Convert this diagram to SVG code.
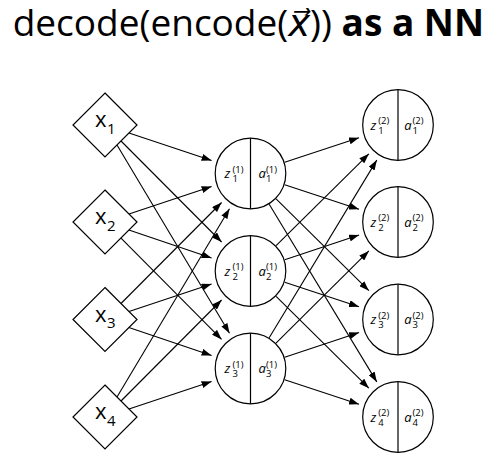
<svg xmlns="http://www.w3.org/2000/svg" width="501" height="469" viewBox="0 0 501 469">
<style>
.t{font-family:"Open Sans","DejaVu Sans",sans-serif;fill:#000}
.nd{fill:#fff;stroke:#000;stroke-width:1.2}
.dv{stroke:#000;stroke-width:1.2}
.e{stroke:#000;stroke-width:1.1;fill:none;marker-end:url(#ah)}
.xl{font-size:22px}
.xs{font-size:15px}
.m{font-size:13px;font-style:italic}
.s{font-size:9.5px}
</style>
<defs>
<marker id="ah" viewBox="0 0 10 7" refX="10" refY="3.5" markerWidth="10" markerHeight="7" orient="auto" markerUnits="userSpaceOnUse"><path d="M0,0 L10,3.5 L0,7 z" fill="#000"/></marker>
</defs>
<rect width="501" height="469" fill="#fff"/>
<text id="title" class="t" x="12.7" y="36" font-size="37">decode(encode(<tspan font-style="italic">x⃗</tspan>)) <tspan font-weight="bold">as a NN</tspan></text>
<g id="edges">
<line class="e" x1="129.0" y1="133.0" x2="211.6" y2="160.5"/>
<line class="e" x1="121.0" y1="141.0" x2="221.6" y2="242.0"/>
<line class="e" x1="117.0" y1="145.0" x2="229.5" y2="333.3"/>
<line class="e" x1="129.0" y1="214.0" x2="211.6" y2="186.5"/>
<line class="e" x1="128.9" y1="230.1" x2="211.6" y2="257.9"/>
<line class="e" x1="121.0" y1="238.1" x2="221.6" y2="339.4"/>
<line class="e" x1="121.0" y1="303.5" x2="221.6" y2="202.5"/>
<line class="e" x1="129.0" y1="311.5" x2="211.6" y2="284.0"/>
<line class="e" x1="128.9" y1="327.6" x2="211.6" y2="355.4"/>
<line class="e" x1="117.0" y1="397.0" x2="229.5" y2="208.7"/>
<line class="e" x1="121.0" y1="401.0" x2="221.6" y2="300.0"/>
<line class="e" x1="129.0" y1="409.0" x2="211.6" y2="381.5"/>
<line class="e" x1="284.7" y1="162.3" x2="359.0" y2="137.8"/>
<line class="e" x1="284.7" y1="184.7" x2="359.0" y2="209.2"/>
<line class="e" x1="276.1" y1="198.8" x2="368.9" y2="290.7"/>
<line class="e" x1="269.2" y1="204.3" x2="376.8" y2="381.9"/>
<line class="e" x1="276.1" y1="245.7" x2="368.9" y2="153.8"/>
<line class="e" x1="284.7" y1="259.7" x2="359.1" y2="234.9"/>
<line class="e" x1="284.7" y1="282.2" x2="359.0" y2="306.7"/>
<line class="e" x1="276.1" y1="296.3" x2="368.9" y2="388.2"/>
<line class="e" x1="269.2" y1="337.7" x2="376.8" y2="160.1"/>
<line class="e" x1="276.0" y1="343.1" x2="368.9" y2="250.9"/>
<line class="e" x1="284.7" y1="357.2" x2="359.1" y2="332.4"/>
<line class="e" x1="284.7" y1="379.8" x2="359.0" y2="404.2"/>
</g>
<g id="x1"><path class="nd" d="M105,93 L137,125 L105,157 L73,125 Z"/><text class="t xl" x="95" y="127">x</text><text class="t xs" x="107" y="133.7">1</text></g>
<g id="x2"><path class="nd" d="M105,190 L137,222 L105,254 L73,222 Z"/><text class="t xl" x="95" y="224">x</text><text class="t xs" x="107" y="230.7">2</text></g>
<g id="x3"><path class="nd" d="M105,287.5 L137,319.5 L105,351.5 L73,319.5 Z"/><text class="t xl" x="95" y="321.5">x</text><text class="t xs" x="107" y="328.2">3</text></g>
<g id="x4"><path class="nd" d="M105,385 L137,417 L105,449 L73,417 Z"/><text class="t xl" x="95" y="419">x</text><text class="t xs" x="107" y="425.7">4</text></g>
<g id="h1"><circle class="nd" cx="250.5" cy="173.5" r="35.3"/><line class="dv" x1="250.5" y1="138.2" x2="250.5" y2="208.8"/><text class="t m" x="224.6" y="178.3">z</text><text class="t s" x="232.5" y="172.5">(1)</text><text class="t s" x="232.5" y="182.3">1</text><text class="t m" x="258.5" y="178.3">a</text><text class="t s" x="266" y="172.5">(1)</text><text class="t s" x="266" y="182.3">1</text></g>
<g id="h2"><circle class="nd" cx="250.5" cy="271" r="35.3"/><line class="dv" x1="250.5" y1="235.7" x2="250.5" y2="306.3"/><text class="t m" x="224.6" y="275.8">z</text><text class="t s" x="232.5" y="270">(1)</text><text class="t s" x="232.5" y="279.8">2</text><text class="t m" x="258.5" y="275.8">a</text><text class="t s" x="266" y="270">(1)</text><text class="t s" x="266" y="279.8">2</text></g>
<g id="h3"><circle class="nd" cx="250.5" cy="368.5" r="35.3"/><line class="dv" x1="250.5" y1="333.2" x2="250.5" y2="403.8"/><text class="t m" x="224.6" y="373.3">z</text><text class="t s" x="232.5" y="367.5">(1)</text><text class="t s" x="232.5" y="377.3">3</text><text class="t m" x="258.5" y="373.3">a</text><text class="t s" x="266" y="367.5">(1)</text><text class="t s" x="266" y="377.3">3</text></g>
<g id="o1"><circle class="nd" cx="398" cy="125" r="35.3"/><line class="dv" x1="398" y1="89.7" x2="398" y2="160.3"/><text class="t m" x="370.6" y="129.8">z</text><text class="t s" x="378.3" y="124">(2)</text><text class="t s" x="378.3" y="133.8">1</text><text class="t m" x="404.3" y="129.8">a</text><text class="t s" x="412.5" y="124">(2)</text><text class="t s" x="412.5" y="133.8">1</text></g>
<g id="o2"><circle class="nd" cx="398" cy="222" r="35.3"/><line class="dv" x1="398" y1="186.7" x2="398" y2="257.3"/><text class="t m" x="370.6" y="226.8">z</text><text class="t s" x="378.3" y="221">(2)</text><text class="t s" x="378.3" y="230.8">2</text><text class="t m" x="404.3" y="226.8">a</text><text class="t s" x="412.5" y="221">(2)</text><text class="t s" x="412.5" y="230.8">2</text></g>
<g id="o3"><circle class="nd" cx="398" cy="319.5" r="35.3"/><line class="dv" x1="398" y1="284.2" x2="398" y2="354.8"/><text class="t m" x="370.6" y="324.3">z</text><text class="t s" x="378.3" y="318.5">(2)</text><text class="t s" x="378.3" y="328.3">3</text><text class="t m" x="404.3" y="324.3">a</text><text class="t s" x="412.5" y="318.5">(2)</text><text class="t s" x="412.5" y="328.3">3</text></g>
<g id="o4"><circle class="nd" cx="398" cy="417" r="35.3"/><line class="dv" x1="398" y1="381.7" x2="398" y2="452.3"/><text class="t m" x="370.6" y="421.8">z</text><text class="t s" x="378.3" y="416">(2)</text><text class="t s" x="378.3" y="425.8">4</text><text class="t m" x="404.3" y="421.8">a</text><text class="t s" x="412.5" y="416">(2)</text><text class="t s" x="412.5" y="425.8">4</text></g>
</svg>
